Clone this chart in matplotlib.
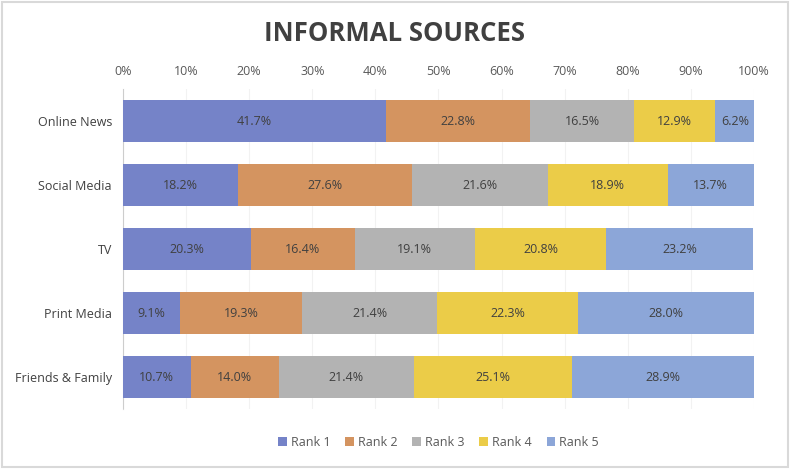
import numpy as np
import matplotlib.pyplot as plt
from matplotlib.patches import Rectangle

plt.rcParams['font.family'] = ['Open Sans', 'DejaVu Sans']

sources = ['Online News', 'Social Media', 'TV', 'Print Media', 'Friends & Family']
ranks = ['Rank 1', 'Rank 2', 'Rank 3', 'Rank 4', 'Rank 5']
rank1 = [41.7, 18.2, 20.3, 9.1, 10.7]
rank2 = [22.8, 27.6, 16.4, 19.3, 14.0]
rank3 = [16.5, 21.6, 19.1, 21.4, 21.4]
rank4 = [12.9, 18.9, 20.8, 22.3, 25.1]
rank5 = [6.2, 13.7, 23.2, 28.0, 28.9]
colors = ['#7583c8', '#d49460', '#b3b3b3', '#ebcc48', '#8ca6d8']

fig = plt.figure(figsize=(7.9, 4.69), dpi=100)
ax = fig.add_axes([0.1557, 0.1279, 0.7987, 0.6823])

y = np.arange(len(sources))
left = np.zeros(len(sources))
for name, vals, c in zip(ranks, [rank1, rank2, rank3, rank4, rank5], colors):
    vals = np.array(vals)
    ax.barh(y, vals, left=left, height=0.67, color=c, label=name, zorder=2)
    for yi, l, v in zip(y, left, vals):
        ax.text(l + v / 2, yi, f'{v:.1f}%', ha='center', va='center',
                fontsize=9, color='#404040', zorder=3)
    left += vals

ax.set_xlim(0, 100)
ax.set_ylim(4.5, -0.5)
ax.set_xticks(np.arange(0, 101, 10))
ax.set_xticklabels([f'{t}%' for t in range(0, 101, 10)])
ax.xaxis.tick_top()
ax.tick_params(axis='x', length=0, labelsize=9, labelcolor='#595959', pad=8)
ax.set_yticks(y)
ax.set_yticklabels(sources)
ax.tick_params(axis='y', length=0, labelsize=9, labelcolor='#404040', pad=8)
ax.grid(axis='x', color='#d9d9d9', linewidth=0.8, zorder=1)
ax.grid(axis='x', color='#000000', alpha=0.05, linewidth=0.8, zorder=2.5)
for s in ['top', 'right', 'bottom']:
    ax.spines[s].set_visible(False)
ax.spines['left'].set_color('#d9d9d9')
ax.spines['left'].set_zorder(0.5)

fig.text(0.5, 0.928, 'INFORMAL SOURCES', ha='center', va='center',
         fontsize=18.5, fontweight='bold', color='#404040')

ax.legend(loc='center', bbox_to_anchor=(0.5, -0.105), ncol=5, frameon=False,
          fontsize=9, labelcolor='#595959', handlelength=0.7, handleheight=0.7,
          handletextpad=0.3, columnspacing=1.2)

fig.patches.append(Rectangle((0.002, 0.004), 0.996, 0.992, transform=fig.transFigure,
                             fill=False, edgecolor='#d9d9d9', linewidth=1.5))

fig.savefig('out.png', dpi=100)
